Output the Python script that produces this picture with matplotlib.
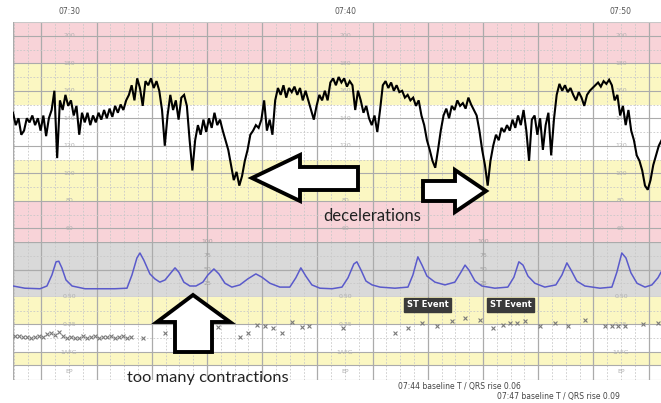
import numpy as np
import matplotlib
matplotlib.use("Agg")
import matplotlib.pyplot as plt
from matplotlib.patches import Polygon

# ---------------- data ----------------
time_labels = ["07:30", "07:40", "07:50"]
time_label_pos = [0, 10, 20]          # minutes after 07:30

fhr_start = -2.03                     # minutes after 07:30
fhr_step = 0.1
fhr_bpm = [144, 135, 140, 128, 131, 140, 137, 142, 135, 140, 131, 142, 127, 140, 146,
           160, 111, 153, 146, 157, 149,
           153, 142, 149, 128, 144,
           137, 144, 135, 142, 137, 144, 139, 146, 140, 147, 141, 149, 144, 150, 146, 153,
           157, 164, 153, 169, 162, 149, 167, 164, 169, 162, 167, 160,
           146, 120, 142,
           157, 146, 153, 139, 155, 157, 149,
           124, 102, 124, 135,
           128, 139, 130, 140, 133, 144, 135, 139, 131, 124, 117,
           106, 95, 101, 91, 98, 109,
           117, 128, 131, 135, 133, 139, 153, 131, 139, 128,
           153, 162, 157, 164, 155, 162, 159, 163, 157, 162, 153, 160, 153, 146, 139, 149, 157, 153, 160, 153,
           166, 169, 164, 170, 166, 169, 163, 167, 164, 146,
           160, 153, 144, 149, 140, 135, 142, 130, 146,
           164, 167, 162, 166, 160, 164, 159, 160, 155, 157, 153, 155, 149, 153,
           142, 135, 124, 117, 109, 104, 117,
           131, 142, 147, 140, 149, 146, 153, 149, 151, 147, 155, 150, 146, 142,
           131, 117, 106, 91, 109,
           120, 128, 124, 133, 130, 135, 131, 139, 133,
           142, 135, 146, 131, 109, 139, 142, 128, 140, 117, 135, 144, 113, 139,
           157, 165, 160, 164, 159, 162, 157, 153, 159, 155, 149, 157, 160, 162, 164, 166, 163, 167, 165, 168, 164,
           153, 157, 142, 149, 135, 146, 131, 124, 113, 109, 102, 91, 88, 95, 106, 113, 120, 124]

toco_t = [-2.03, -1.60, -1.05, -0.80, -0.62, -0.47, -0.37, -0.26, -0.11, 0.11,
          0.58, 1.12, 1.66, 2.10, 2.28, 2.46, 2.57, 2.71, 2.93, 3.11,
          3.29, 3.48, 3.66, 3.84, 3.98, 4.16, 4.38, 4.60, 4.85, 5.03,
          5.25, 5.43, 5.65, 5.90, 6.19, 6.48, 6.77, 6.99, 7.28, 7.64,
          8.00, 8.22, 8.40, 8.58, 8.80, 9.09, 9.53, 9.89, 10.11, 10.32,
          10.43, 10.58, 10.76, 10.98, 11.27, 11.81, 12.28, 12.46, 12.64, 12.79,
          12.97, 13.26, 13.62, 13.98, 14.20, 14.35, 14.49, 14.71, 14.96, 15.43,
          15.90, 16.12, 16.30, 16.45, 16.63, 16.88, 17.24, 17.64, 17.86, 18.04,
          18.19, 18.40, 18.69, 19.24, 19.67, 19.85, 20.03, 20.18, 20.36, 20.58,
          20.87, 21.12, 21.34, 21.45]
toco_val = [20, 16, 15, 20, 40, 64, 65, 53, 31, 20,
            15, 15, 15, 16, 40, 71, 80, 67, 42, 33,
            27, 31, 42, 53, 45, 27, 20, 20, 27, 40,
            51, 42, 25, 18, 22, 33, 42, 36, 25, 18,
            18, 35, 53, 38, 22, 16, 15, 18, 35, 60,
            64, 49, 29, 22, 18, 16, 18, 40, 73, 58,
            38, 27, 22, 27, 45, 58, 49, 29, 20, 16,
            18, 36, 64, 58, 38, 25, 18, 22, 40, 62,
            49, 29, 20, 16, 18, 45, 80, 71, 44, 25,
            18, 22, 35, 45]

tqrs_t = [-1.96, -1.81, -1.67, -1.52, -1.38, -1.23, -1.09, -0.94, -0.80, -0.65,
          -0.51, -0.36, -0.22, -0.07, 0.07, 0.22, 0.36, 0.51, 0.65, 0.80,
          0.94, 1.09, 1.23, 1.38, 1.52, 1.67, 1.81, 1.96, 2.10, 2.25, 2.68,
          3.48, 4.20, 4.57, 4.82, 5.40, 6.20, 6.49, 6.81, 7.10, 7.39, 7.72,
          8.08, 8.44, 8.70, 9.93, 11.81, 12.28, 12.79, 13.33, 13.88, 14.35,
          14.89, 15.36, 15.72, 15.98, 16.23, 16.52, 17.07, 17.61, 18.08, 18.70,
          19.42, 19.67, 19.89, 20.14, 20.80, 21.34]
tqrs_val = [0.14, 0.14, 0.13, 0.13, 0.12, 0.13, 0.14, 0.13, 0.16, 0.17,
            0.15, 0.18, 0.14, 0.12, 0.13, 0.12, 0.12, 0.14, 0.12, 0.13,
            0.14, 0.12, 0.13, 0.13, 0.14, 0.12, 0.13, 0.14, 0.12, 0.13, 0.12,
            0.17, 0.17, 0.17, 0.15, 0.22, 0.13, 0.17, 0.24, 0.23, 0.21, 0.17,
            0.27, 0.22, 0.23, 0.21, 0.17, 0.21, 0.26, 0.23, 0.28, 0.31,
            0.29, 0.21, 0.24, 0.26, 0.26, 0.28, 0.23, 0.26, 0.23, 0.29,
            0.23, 0.23, 0.23, 0.23, 0.25, 0.26]

st_event_t = [13.0, 16.0]
st_event_label = "ST Event"

fhr_axis_labels = [200, 180, 160, 140, 120, 100, 80, 60]
toco_axis_labels = [100, 75, 50, 25]
st_axis_labels = [(0.50, "0.50"), (0.25, "0.25"), (-0.01, "1AFG"), (-0.19, "EP")]

notes = ["07:44 baseline T / QRS rise 0.06", "07:47 baseline T / QRS rise 0.09"]

# ---------------- layout ----------------
W, H = 661, 403
fig = plt.figure(figsize=(W / 100, H / 100), dpi=100)
fig.patch.set_facecolor("white")


def px_rect(x0, y0, x1, y1):
    return [x0 / W, 1 - y1 / H, (x1 - x0) / W, (y1 - y0) / H]


def px(x, y):
    return (x / W, 1 - y / H)


T_MIN, T_MAX = -2.03, 21.45
PINK, YELLOW, GREY = "#f8d3d8", "#fbf7c2", "#d9d9d9"
MAJ, MIN = "#ababab", "#c8c8c8"
LBL = "#b0b0b0"

ax_fhr = fig.add_axes(px_rect(13, 22, 661, 242))
ax_toco = fig.add_axes(px_rect(13, 242, 661, 297))
ax_st = fig.add_axes(px_rect(13, 297, 661, 380))

for ax in (ax_fhr, ax_toco, ax_st):
    ax.set_xlim(T_MIN, T_MAX)
    ax.set_xticks([])
    ax.set_yticks([])
    for s in ax.spines.values():
        s.set_visible(False)
    ax.patch.set_alpha(0)

ax_fhr.set_ylim(50, 210)
ax_toco.set_ylim(0, 100)
ax_st.set_ylim(-0.2685, 0.5)

# bands
for lo, hi, c in [(180, 210, PINK), (150, 180, YELLOW), (110, 150, "white"),
                  (80, 110, YELLOW), (50, 80, PINK)]:
    ax_fhr.axhspan(lo, hi, color=c, zorder=0, lw=0)
ax_toco.axhspan(0, 100, color=GREY, zorder=0, lw=0)
for lo, hi, c in [(0.25, 0.5, YELLOW), (-0.01, 0.25, "white"), (-0.13, -0.01, YELLOW),
                  (-0.2685, -0.13, "white")]:
    ax_st.axhspan(lo, hi, color=c, zorder=0, lw=0)

# vertical grid
for ax in (ax_fhr, ax_toco, ax_st):
    for k in range(-4, 44):
        t = k * 0.5
        if t < T_MIN or t > T_MAX:
            continue
        if k % 4 == 2:
            ax.axvline(t, color=MAJ, lw=0.9, zorder=1)
        else:
            ax.axvline(t, color=MIN, lw=0.6, ls=(0, (2, 2)), zorder=1)

# horizontal grid
for v in range(60, 210, 10):
    if v % 20 == 0:
        ax_fhr.axhline(v, color=MAJ, lw=0.8, zorder=1)
    else:
        ax_fhr.axhline(v, color=MIN, lw=0.6, ls=(0, (2, 2)), zorder=1)
ax_fhr.axhline(210, color=MIN, lw=0.8, zorder=1)
for v in (0, 50, 100):
    ax_toco.axhline(v, color=MAJ, lw=0.9, zorder=1)
for v in (25, 75):
    ax_toco.axhline(v, color=MIN, lw=0.6, ls=(0, (2, 2)), zorder=1)
for v in (0.25, -0.01, -0.13, -0.2685):
    ax_st.axhline(v, color=MAJ, lw=0.8, zorder=1)
for v in (0.375, 0.12):
    ax_st.axhline(v, color=MIN, lw=0.6, ls=(0, (2, 2)), zorder=1)
for ax in (ax_fhr, ax_toco, ax_st):
    ax.axvline(T_MIN, color=MAJ, lw=1.0, zorder=1)

# axis labels printed inside the grid
for tc in time_label_pos:
    for v in fhr_axis_labels:
        ax_fhr.text(tc, v, str(v), fontsize=4.5, color=LBL, ha="center", va="center",
                    zorder=2)
    for v, s in st_axis_labels:
        ax_st.text(tc, v, s, fontsize=4.5, color=LBL, ha="center", va="center", zorder=2)
for tc in (5, 15):
    for v in toco_axis_labels:
        ax_toco.text(tc, v, str(v), fontsize=4.5, color="#9f9f9f", ha="center",
                     va="center", zorder=2)

# time labels
for tc, s in zip(time_label_pos, time_labels):
    ax_fhr.text(tc, 214, s, fontsize=5.5, color="#555555", ha="center", va="bottom",
                clip_on=False)

# traces
fhr_t = fhr_start + fhr_step * np.arange(len(fhr_bpm))
ax_fhr.plot(fhr_t, fhr_bpm, color="black", lw=1.5, zorder=3, solid_joinstyle="miter")
ax_toco.plot(toco_t, toco_val, color="#5a5acb", lw=1.1, zorder=3)
ax_st.scatter(tqrs_t, tqrs_val, marker="x", s=8, color="#7a7a7a", lw=0.8, zorder=3)

for tc in st_event_t:
    ax_st.text(tc, 0.43, st_event_label, fontsize=6, color="white", ha="center",
               va="center", fontweight="bold", zorder=4,
               bbox=dict(boxstyle="square,pad=0.3", fc="#3a3a3a", ec="#3a3a3a"))

# annotation arrows (drawn in figure pixel space)
arrows = [
    [(252, 178), (300, 155), (300, 167), (358, 167), (358, 190), (300, 190), (300, 201)],
    [(486, 191), (455, 170), (455, 181), (423, 181), (423, 201), (455, 201), (455, 212)],
    [(193, 295), (230, 322), (212, 322), (212, 352), (175, 352), (175, 322), (157, 322)],
]
for poly in arrows:
    fig.patches.append(Polygon([px(x, y) for x, y in poly], closed=True,
                               transform=fig.transFigure, fc="white", ec="black",
                               lw=2.8, joinstyle="miter", zorder=10))

fig.text(*px(372, 216), "decelerations", fontsize=12, family="Lato", color="#222222",
         ha="center", va="center", zorder=11)
fig.text(*px(208, 378), "too many contractions", fontsize=11.8, family="Lato",
         color="#222222", ha="center", va="center", zorder=11)
fig.text(*px(398, 386), notes[0], fontsize=5.5, color="#444444", ha="left",
         va="center")
fig.text(*px(497, 396), notes[1], fontsize=5.5, color="#444444", ha="left",
         va="center")

fig.savefig("out.png", dpi=100, facecolor="white")
